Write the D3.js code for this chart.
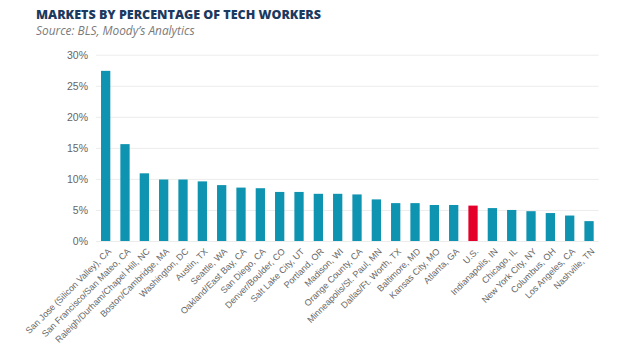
<!DOCTYPE html>
<html><head><meta charset="utf-8">
<script src="https://cdn.jsdelivr.net/npm/d3@7"></script>
<style>
body{margin:0;background:#fff;}
svg{display:block;}
</style></head>
<body>
<script>
const categories = ["San Jose (Silicon Valley), CA","San Francisco/San Mateo, CA","Raleigh/Durham/Chapel Hill, NC","Boston/Cambridge, MA","Washington, DC","Austin, TX","Seattle, WA","Oakland/East Bay, CA","San Diego, CA","Denver/Boulder, CO","Salt Lake City, UT","Portland, OR","Madison, WI","Orange County, CA","Minneapolis/St. Paul, MN","Dallas/Ft. Worth, TX","Baltimore, MD","Kansas City, MO","Atlanta, GA","U.S.","Indianapolis, IN","Chicago, IL","New York City, NY","Columbus, OH","Los Angeles, CA","Nashville, TN"];
const values = [27.4,15.6,10.9,9.9,9.9,9.6,9.0,8.6,8.5,7.9,7.9,7.6,7.6,7.5,6.7,6.1,6.1,5.8,5.8,5.7,5.3,5.0,4.8,4.5,4.1,3.2];
const highlight = ["U.S."];
const yTicks = [0,5,10,15,20,25,30];
const title = "MARKETS BY PERCENTAGE OF TECH WORKERS";
const subtitle = "Source: BLS, Moody\u2019s Analytics";

const W=620,H=352;
const svg=d3.select("body").append("svg").attr("width",W).attr("height",H);
const x=d3.scaleBand().domain(categories).range([96,598.7]).paddingInner(0.52).paddingOuter(0.26);
const y=d3.scaleLinear().domain([0,30]).range([241,54.7]);

svg.append("text").attr("x",36).attr("y",18.5).text(title)
  .attr("font-family","Open Sans").attr("font-weight",800).attr("font-size",12.5)
  .attr("fill","#1c3a5f");
svg.append("text").attr("x",36).attr("y",35).text(subtitle)
  .attr("font-family","Open Sans").attr("font-style","italic").attr("font-size",11.9)
  .attr("fill","#7a7a7a");

const ya=svg.append("g").attr("transform","translate(96,0)")
  .call(d3.axisLeft(y).tickValues(yTicks).tickFormat(d=>d+"%").tickSize(-502.7).tickPadding(8));
ya.select(".domain").remove();
ya.selectAll(".tick line").attr("stroke","#ececec").attr("stroke-width",1);
ya.selectAll(".tick text").attr("font-family","Liberation Sans").attr("font-size",10.5).attr("fill","#666");

svg.append("g").selectAll("rect").data(categories).join("rect")
  .attr("x",d=>x(d)).attr("width",x.bandwidth())
  .attr("y",(d,i)=>y(values[i])).attr("height",(d,i)=>y(0)-y(values[i]))
  .attr("fill",d=>highlight.includes(d)?"#e4002b":"#0e93b0");

const xa=svg.append("g").attr("transform","translate(0,241)")
  .call(d3.axisBottom(x).tickSize(0).tickPadding(0));
xa.select(".domain").remove();
xa.selectAll(".tick text").attr("font-family","Liberation Sans").attr("font-size",9).attr("fill","#666")
  .attr("text-anchor","end").attr("dy",0).attr("y",0)
  .attr("transform","translate(6,11) rotate(-45)");
</script>
</body></html>
